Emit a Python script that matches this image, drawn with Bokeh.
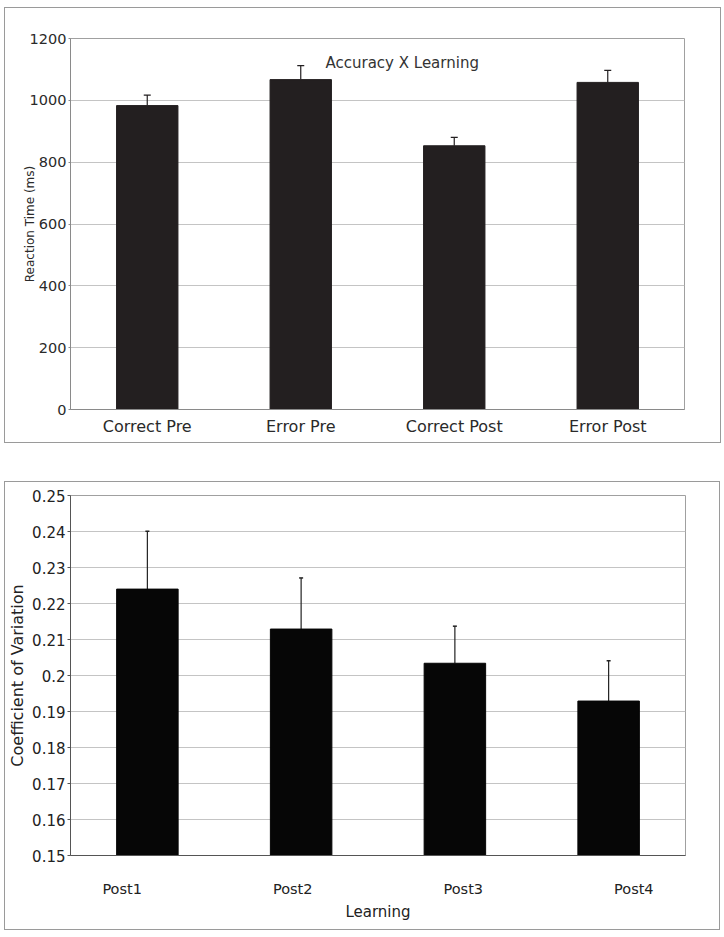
from bokeh.plotting import figure
from bokeh.layouts import column
from bokeh.models import (ColumnDataSource, Whisker, TeeHead, Label, FactorRange, Range1d,
                          CategoricalAxis)
from bokeh.embed import file_html
from bokeh.resources import INLINE

# ---- data: top chart ----
top_categories = ["Correct Pre", "Error Pre", "Correct Post", "Error Post"]
top_rt = [983, 1067, 853, 1058]
top_se = [34, 45, 27, 39]
top_ticks = [0, 200, 400, 600, 800, 1000, 1200]

# ---- data: bottom chart ----
bot_categories = ["Post1", "Post2", "Post3", "Post4"]
bot_cv = [0.2240, 0.2129, 0.2034, 0.1929]
bot_se = [0.0161, 0.0142, 0.0103, 0.0112]
bot_ticks = [0.15, 0.16, 0.17, 0.18, 0.19, 0.20, 0.21, 0.22, 0.23, 0.24, 0.25]

FONT = "DejaVu Sans"
GRID = "#c4c4c4"
TXT = "#2a2a2a"
BORDER = {"border": "1.5px solid #9a9a9a", "box-sizing": "border-box"}

# ================= top figure =================
src1 = ColumnDataSource(dict(cat=top_categories, val=top_rt,
                             up=[v + e for v, e in zip(top_rt, top_se)]))
p1 = figure(x_range=FactorRange(*top_categories), y_range=Range1d(0, 1200),
            frame_width=612, frame_height=369,
            min_border_left=56, min_border_right=47, min_border_top=30, min_border_bottom=35,
            output_backend="svg", toolbar_location=None, margin=(7, 0, 0, 4))
p1.styles = BORDER
p1.vbar(x="cat", top="val", width=0.4, source=src1, fill_color="#231f20",
        line_color="#231f20", line_width=1)
w1 = Whisker(base="cat", lower="val", upper="up", source=src1,
             line_color="#231f20", line_width=1.2,
             upper_head=TeeHead(size=7, line_color="#231f20", line_width=1.2),
             lower_head=None)
p1.add_layout(w1)

p1.yaxis.ticker = top_ticks
p1.yaxis.axis_label = "Reaction Time (ms)"
p1.yaxis.axis_label_text_font = FONT
p1.yaxis.axis_label_text_font_size = "12px"
p1.yaxis.axis_label_text_font_style = "normal"
p1.yaxis.axis_label_text_color = TXT
p1.yaxis.axis_label_standoff = -10
p1.yaxis.major_label_text_font = FONT
p1.yaxis.major_label_text_font_size = "14.5px"
p1.yaxis.major_label_text_color = TXT
p1.yaxis.major_label_standoff = 2
p1.yaxis.major_tick_out = 2
p1.yaxis.major_tick_in = 0
p1.yaxis.minor_tick_out = 0
p1.yaxis.minor_tick_in = 0
p1.yaxis.axis_line_color = "#8a8a8a"
p1.yaxis.major_tick_line_color = "#8a8a8a"

p1.xaxis.major_label_text_font = FONT
p1.xaxis.major_label_text_font_size = "16px"
p1.xaxis.major_label_text_color = TXT
p1.xaxis.major_label_standoff = 7
p1.xaxis.major_tick_out = 0
p1.xaxis.major_tick_in = 0
p1.xaxis.axis_line_color = "#8a8a8a"

p1.xgrid.grid_line_color = None
p1.ygrid.grid_line_color = GRID
p1.outline_line_color = "#a0a0a0"

p1.add_layout(Label(x=255, x_units="screen", y=1122, text="Accuracy X Learning",
                    text_font=FONT, text_font_size="15px", text_align="left",
                    text_baseline="middle", text_color="#333333"))

# ================= bottom figure =================
src2 = ColumnDataSource(dict(cat=bot_categories, val=bot_cv,
                             up=[v + e for v, e in zip(bot_cv, bot_se)]))
p2 = figure(x_range=FactorRange(*bot_categories), y_range=Range1d(0.15, 0.25),
            frame_width=613, frame_height=358, x_axis_location=None,
            min_border_left=62, min_border_right=36, min_border_top=13, min_border_bottom=76,
            output_backend="svg", toolbar_location=None, margin=(0, 0, 0, 4))
p2.styles = BORDER
p2.vbar(x="cat", top="val", bottom=0.15, width=0.4, source=src2,
        fill_color="#060606", line_color="#060606")
w2 = Whisker(base="cat", lower="val", upper="up", source=src2,
             line_color="#222222", line_width=1.2,
             upper_head=TeeHead(size=4, line_color="#222222", line_width=1.5),
             lower_head=None)
p2.add_layout(w2)

p2.yaxis.ticker = bot_ticks
p2.yaxis.major_label_overrides = {0.2: "0.2"}
p2.yaxis.axis_label = "Coefficient of Variation"
p2.yaxis.axis_label_text_font = FONT
p2.yaxis.axis_label_text_font_size = "16px"
p2.yaxis.axis_label_text_font_style = "normal"
p2.yaxis.axis_label_text_color = "#222222"
p2.yaxis.axis_label_standoff = 2
p2.yaxis.major_label_text_font = FONT
p2.yaxis.major_label_text_font_size = "15px"
p2.yaxis.major_label_text_color = "#222222"
p2.yaxis.major_label_standoff = 2
p2.yaxis.major_tick_out = 3
p2.yaxis.major_tick_in = 0
p2.yaxis.minor_tick_out = 0
p2.yaxis.minor_tick_in = 0
p2.yaxis.axis_line_color = "#555555"
p2.yaxis.major_tick_line_color = "#555555"

# category labels: in the original they are spread a little wider than the bars,
# so they live on a second factor range with negative padding
p2.extra_x_ranges = {"lab": FactorRange(*bot_categories, range_padding=-0.0985)}
xa = CategoricalAxis(x_range_name="lab")
xa.major_label_text_font = FONT
xa.major_label_text_font_size = "14.5px"
xa.major_label_text_color = "#222222"
xa.major_label_standoff = 25
xa.major_tick_out = 0
xa.major_tick_in = 0
xa.axis_line_color = "#555555"
xa.axis_label = "Learning"
xa.axis_label_text_font = FONT
xa.axis_label_text_font_size = "15px"
xa.axis_label_text_font_style = "normal"
xa.axis_label_text_color = "#222222"
xa.axis_label_standoff = 3
p2.add_layout(xa, "below")

p2.xgrid.grid_line_color = None
p2.ygrid.grid_line_color = GRID
p2.outline_line_color = "#a0a0a0"

layout = column(p1, p2, spacing=38)
open("out.html", "w").write(file_html(layout, INLINE))
